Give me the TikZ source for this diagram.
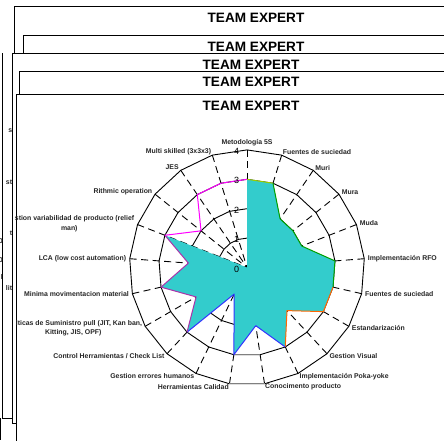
\documentclass[tikz,border=0pt]{standalone}
\usepackage{fontspec}
\setmainfont{Liberation Sans}
\definecolor{turq}{RGB}{51,204,204}
\definecolor{sermag}{RGB}{255,0,255}
\definecolor{sergreen}{RGB}{0,160,0}
\definecolor{serlime}{RGB}{153,204,0}
\definecolor{serorange}{RGB}{255,102,0}
\definecolor{serblue}{RGB}{51,51,255}
\definecolor{serpurple}{RGB}{170,51,170}
\definecolor{sergray}{RGB}{128,128,128}
\begin{document}
\begin{tikzpicture}[x=1pt,y=-1pt,
  win/.style={draw=black,line width=1pt,fill=white},
  wtitle/.style={font=\fontsize{13.6}{15}\selectfont\bfseries,inner sep=0pt},
  axlab/.style={font=\fontsize{6.9}{8}\selectfont\bfseries,inner sep=0pt,text=black!85},
  ring/.style={draw=black,line width=0.9pt},
  spoke/.style={draw=black,line width=0.9pt,dash pattern=on 7pt off 4.5pt},
  ser/.style={line width=1pt,line join=round},
  ticklab/.style={font=\fontsize{9}{10}\selectfont,inner sep=0pt,anchor=east}]
\useasboundingbox (0,0) rectangle (444,440);
\clip (0,0) rectangle (444,440);

% windows behind
\draw[line width=1pt] (2.5,53) -- (2.5,418) -- (12.3,418);
\draw[line width=1pt] (0.8,418) -- (0.8,440);
\node[axlab,anchor=east] (f1) at (12.3,131) {s};
\node[axlab,anchor=east] (f2) at (12.3,182.5) {st};
\node[axlab,anchor=east] (f3) at (12.3,233) {t};
\node[axlab,anchor=east] (f4) at (12.3,288) {lit};
\node[axlab,anchor=east] (f5) at (3,241.5) {0};
\node[axlab,anchor=east] (f6) at (3,260) {0};
\node[axlab,anchor=east] (f7) at (3,276.5) {l};

\filldraw[win] (14,6) rectangle (470,420);
\node[wtitle] (t1) at (256,18) {TEAM EXPERT};
\filldraw[win] (23.3,35.7) rectangle (470,420);
\node[wtitle] (t2) at (256,47) {TEAM EXPERT};
\filldraw[win] (12.3,53.3) rectangle (470,423);
\node[wtitle] (t3) at (251,65.3) {TEAM EXPERT};
\filldraw[win] (19,71.7) rectangle (470,430);
\node[wtitle] (t4) at (251,82) {TEAM EXPERT};
\filldraw[win] (16.7,94.3) rectangle (470,460);
\node[wtitle] (t5) at (251,105.5) {TEAM EXPERT};

% radar chart
\def\cx{247}
\def\cy{267.5}
\def\ru{29.4}
\foreach \r in {1,...,4}
  \draw[ring] (\cx,\cy-\r*\ru) \foreach \k in {1,...,20} { -- ({\cx+\r*\ru*sin(\k*360/21)},{\cy-\r*\ru*cos(\k*360/21)}) } -- cycle;
\foreach \k in {0,...,20}
  \draw[spoke] ({\cx+4*\ru*sin(\k*360/21)},{\cy-4*\ru*cos(\k*360/21)}) -- (\cx,\cy);

\foreach \v [count=\k from 0] in {3,3,2,2,2,3,3,3,2,3,2,3,1,3,2,3,2,3,0,0,0}
  \coordinate (c\k) at ({\cx+\v*\ru*sin(\k*360/21)},{\cy-\v*\ru*cos(\k*360/21)});
\foreach \k in {0,...,20}
  \coordinate (l\k) at ({\cx+121*sin(\k*360/21)},{\cy-121*cos(\k*360/21)});
\coordinate (m18) at ({\cx+2*\ru*sin(18*360/21)},{\cy-2*\ru*cos(18*360/21)});
\coordinate (m19) at ({\cx+3*\ru*sin(19*360/21)},{\cy-3*\ru*cos(19*360/21)});
\coordinate (m20) at ({\cx+3*\ru*sin(20*360/21)},{\cy-3*\ru*cos(20*360/21)});
\coordinate (g10) at ({\cx+3*\ru*sin(10*360/21)},{\cy-3*\ru*cos(10*360/21)});
\coordinate (o10) at ({\cx+4*\ru*sin(10*360/21)},{\cy-4*\ru*cos(10*360/21)});
\coordinate (o11) at ({\cx+4*\ru*sin(11*360/21)},{\cy-4*\ru*cos(11*360/21)});

\fill[turq] (c0) \foreach \k in {1,...,20} { -- (c\k) } -- cycle;
\draw[ser,sergray] (c11) -- (g10);
\draw[ser,sergray] (o11) -- (o10);
\draw[ser,serlime] (c0) -- (c1);
\draw[ser,sergreen] (c1) -- (c2) -- (c3) -- (c4) -- (c5) -- (c6);
\draw[ser,serorange] (c6) -- (c7) -- (c8) -- (c9);
\draw[ser,serblue] (c9) -- (c10) -- (c11) -- (c12) -- (c13);
\draw[ser,serpurple] (c13) -- (c14) -- (c15) -- (c16) -- (c17);
\draw[ser,sermag] (c17) -- (m18) -- (m19) -- (m20) -- (c0);

% axis labels
\node[axlab,anchor=south] (a0) at (l0) {Metodología 5S};
\node[axlab,anchor=west] (a1) at (l1) {Fuentes de suciedad};
\node[axlab,anchor=west] (a2) at (l2) {Muri};
\node[axlab,anchor=west] (a3) at (l3) {Mura};
\node[axlab,anchor=west] (a4) at (l4) {Muda};
\node[axlab,anchor=west] (a5) at (l5) {Implementación RFO};
\node[axlab,anchor=west] (a6) at (l6) {Fuentes de suciedad};
\node[axlab,anchor=west] (a7) at (l7) {Estandarización};
\node[axlab,anchor=west] (a8) at (l8) {Gestion Visual};
\node[axlab,anchor=west] (a9) at (l9) {Implementación Poka-yoke};
\node[axlab,anchor=west] (a10) at (l10) {Conocimento producto};
\node[axlab,anchor=east] (a11) at (l11) {Herramientas Calidad};
\node[axlab,anchor=east] (a12) at (l12) {Gestion errores humanos};
\node[axlab,anchor=east] (a13) at (l13) {Control Herramientas / Check List};
\node[axlab,anchor=east] (a14) at ([yshift=4.5pt]l14) {lticas de Suministro pull (JIT, Kan ban,};
\node[axlab] (a14b) at (73.2,332.3) {Kitting, JIS, OPF)};
\node[axlab,anchor=east] (a15) at (l15) {Minima movimentacion material};
\node[axlab,anchor=east] (a16) at (l16) {LCA (low cost automation)};
\node[axlab,anchor=east] (a17) at ([yshift=4.5pt]l17) {stion variabilidad de producto (relief};
\node[axlab] (a17b) at (69.3,228.3) {man)};
\node[axlab,anchor=east] (a18) at (l18) {Rithmic operation};
\node[axlab,anchor=east] (a19) at (l19) {JES};
\node[axlab,anchor=east] (a20) at (l20) {Multi skilled (3x3x3)};

% scale numbers
\foreach \r in {0,...,4}
  \node[ticklab] (n\r) at (239.3,{\cy-\r*\ru+1.5}) {\r};
\end{tikzpicture}
\end{document}
